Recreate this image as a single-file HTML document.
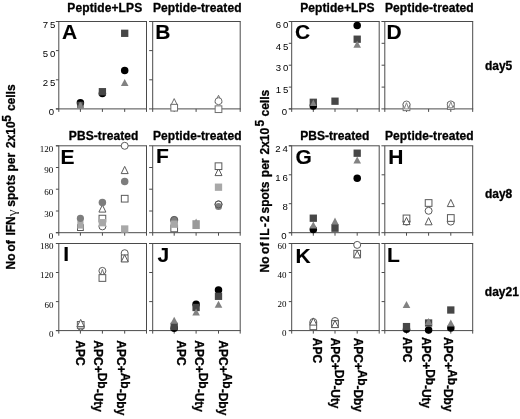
<!DOCTYPE html>
<html><head><meta charset="utf-8"><title>Figure</title>
<style>
html,body{margin:0;padding:0;background:#fff;}
body{width:520px;height:419px;overflow:hidden;font-family:"Liberation Sans",sans-serif;}
svg{display:block;filter:grayscale(1);}
text{fill:#000;}
.b{stroke:#000;stroke-width:0.3px;stroke-linejoin:round;}
.L{stroke:#000;stroke-width:0.12px;}
.g{fill:#333;}
</style></head><body>
<svg width="520" height="419" viewBox="0 0 520 419">
<rect width="520" height="419" fill="#fff"/>
<line x1="55.90" y1="21.50" x2="147.00" y2="21.50" stroke="#4a4a4a" stroke-width="1"/>
<line x1="58.80" y1="21.50" x2="58.80" y2="108.90" stroke="#4a4a4a" stroke-width="1"/>
<line x1="146.50" y1="21.50" x2="146.50" y2="108.90" stroke="#4a4a4a" stroke-width="1"/>
<line x1="55.90" y1="108.90" x2="147.00" y2="108.90" stroke="#4a4a4a" stroke-width="1"/>
<line x1="80.40" y1="108.90" x2="80.40" y2="111.90" stroke="#4a4a4a" stroke-width="1"/>
<line x1="102.40" y1="108.90" x2="102.40" y2="111.90" stroke="#4a4a4a" stroke-width="1"/>
<line x1="124.70" y1="108.90" x2="124.70" y2="111.90" stroke="#4a4a4a" stroke-width="1"/>
<line x1="58.80" y1="108.90" x2="58.80" y2="111.90" stroke="#4a4a4a" stroke-width="1"/>
<line x1="146.50" y1="108.90" x2="146.50" y2="111.90" stroke="#4a4a4a" stroke-width="1"/>
<line x1="55.90" y1="21.50" x2="58.80" y2="21.50" stroke="#4a4a4a" stroke-width="1"/>
<line x1="55.90" y1="50.60" x2="58.80" y2="50.60" stroke="#4a4a4a" stroke-width="1"/>
<line x1="55.90" y1="79.80" x2="58.80" y2="79.80" stroke="#4a4a4a" stroke-width="1"/>
<line x1="55.90" y1="108.90" x2="58.80" y2="108.90" stroke="#4a4a4a" stroke-width="1"/>
<line x1="149.00" y1="21.50" x2="240.70" y2="21.50" stroke="#4a4a4a" stroke-width="1"/>
<line x1="152.70" y1="21.50" x2="152.70" y2="108.90" stroke="#4a4a4a" stroke-width="1"/>
<line x1="240.20" y1="21.50" x2="240.20" y2="108.90" stroke="#4a4a4a" stroke-width="1"/>
<line x1="149.00" y1="108.90" x2="240.70" y2="108.90" stroke="#4a4a4a" stroke-width="1"/>
<line x1="174.20" y1="108.90" x2="174.20" y2="111.90" stroke="#4a4a4a" stroke-width="1"/>
<line x1="196.10" y1="108.90" x2="196.10" y2="111.90" stroke="#4a4a4a" stroke-width="1"/>
<line x1="218.50" y1="108.90" x2="218.50" y2="111.90" stroke="#4a4a4a" stroke-width="1"/>
<line x1="152.70" y1="108.90" x2="152.70" y2="111.90" stroke="#4a4a4a" stroke-width="1"/>
<line x1="240.20" y1="108.90" x2="240.20" y2="111.90" stroke="#4a4a4a" stroke-width="1"/>
<line x1="149.20" y1="50.60" x2="152.70" y2="50.60" stroke="#4a4a4a" stroke-width="1"/>
<line x1="149.20" y1="79.80" x2="152.70" y2="79.80" stroke="#4a4a4a" stroke-width="1"/>
<line x1="288.80" y1="21.50" x2="379.70" y2="21.50" stroke="#4a4a4a" stroke-width="1"/>
<line x1="291.70" y1="21.50" x2="291.70" y2="108.90" stroke="#4a4a4a" stroke-width="1"/>
<line x1="379.20" y1="21.50" x2="379.20" y2="108.90" stroke="#4a4a4a" stroke-width="1"/>
<line x1="288.80" y1="108.90" x2="379.70" y2="108.90" stroke="#4a4a4a" stroke-width="1"/>
<line x1="313.30" y1="108.90" x2="313.30" y2="111.90" stroke="#4a4a4a" stroke-width="1"/>
<line x1="335.00" y1="108.90" x2="335.00" y2="111.90" stroke="#4a4a4a" stroke-width="1"/>
<line x1="357.20" y1="108.90" x2="357.20" y2="111.90" stroke="#4a4a4a" stroke-width="1"/>
<line x1="291.70" y1="108.90" x2="291.70" y2="111.90" stroke="#4a4a4a" stroke-width="1"/>
<line x1="379.20" y1="108.90" x2="379.20" y2="111.90" stroke="#4a4a4a" stroke-width="1"/>
<line x1="288.80" y1="21.50" x2="291.70" y2="21.50" stroke="#4a4a4a" stroke-width="1"/>
<line x1="288.80" y1="43.30" x2="291.70" y2="43.30" stroke="#4a4a4a" stroke-width="1"/>
<line x1="288.80" y1="65.20" x2="291.70" y2="65.20" stroke="#4a4a4a" stroke-width="1"/>
<line x1="288.80" y1="87.10" x2="291.70" y2="87.10" stroke="#4a4a4a" stroke-width="1"/>
<line x1="288.80" y1="108.90" x2="291.70" y2="108.90" stroke="#4a4a4a" stroke-width="1"/>
<line x1="381.40" y1="21.50" x2="473.20" y2="21.50" stroke="#4a4a4a" stroke-width="1"/>
<line x1="384.80" y1="21.50" x2="384.80" y2="108.90" stroke="#4a4a4a" stroke-width="1"/>
<line x1="472.70" y1="21.50" x2="472.70" y2="108.90" stroke="#4a4a4a" stroke-width="1"/>
<line x1="381.40" y1="108.90" x2="473.20" y2="108.90" stroke="#4a4a4a" stroke-width="1"/>
<line x1="406.50" y1="108.90" x2="406.50" y2="111.90" stroke="#4a4a4a" stroke-width="1"/>
<line x1="428.60" y1="108.90" x2="428.60" y2="111.90" stroke="#4a4a4a" stroke-width="1"/>
<line x1="450.80" y1="108.90" x2="450.80" y2="111.90" stroke="#4a4a4a" stroke-width="1"/>
<line x1="384.80" y1="108.90" x2="384.80" y2="111.90" stroke="#4a4a4a" stroke-width="1"/>
<line x1="472.70" y1="108.90" x2="472.70" y2="111.90" stroke="#4a4a4a" stroke-width="1"/>
<line x1="381.60" y1="43.30" x2="384.80" y2="43.30" stroke="#4a4a4a" stroke-width="1"/>
<line x1="381.60" y1="65.20" x2="384.80" y2="65.20" stroke="#4a4a4a" stroke-width="1"/>
<line x1="381.60" y1="87.10" x2="384.80" y2="87.10" stroke="#4a4a4a" stroke-width="1"/>
<line x1="55.90" y1="145.80" x2="147.00" y2="145.80" stroke="#4a4a4a" stroke-width="1"/>
<line x1="58.80" y1="145.80" x2="58.80" y2="232.70" stroke="#4a4a4a" stroke-width="1"/>
<line x1="146.50" y1="145.80" x2="146.50" y2="232.70" stroke="#4a4a4a" stroke-width="1"/>
<line x1="55.90" y1="232.70" x2="147.00" y2="232.70" stroke="#4a4a4a" stroke-width="1"/>
<line x1="80.40" y1="232.70" x2="80.40" y2="235.70" stroke="#4a4a4a" stroke-width="1"/>
<line x1="102.40" y1="232.70" x2="102.40" y2="235.70" stroke="#4a4a4a" stroke-width="1"/>
<line x1="124.70" y1="232.70" x2="124.70" y2="235.70" stroke="#4a4a4a" stroke-width="1"/>
<line x1="58.80" y1="232.70" x2="58.80" y2="235.70" stroke="#4a4a4a" stroke-width="1"/>
<line x1="146.50" y1="232.70" x2="146.50" y2="235.70" stroke="#4a4a4a" stroke-width="1"/>
<line x1="55.90" y1="145.80" x2="58.80" y2="145.80" stroke="#4a4a4a" stroke-width="1"/>
<line x1="55.90" y1="167.50" x2="58.80" y2="167.50" stroke="#4a4a4a" stroke-width="1"/>
<line x1="55.90" y1="189.20" x2="58.80" y2="189.20" stroke="#4a4a4a" stroke-width="1"/>
<line x1="55.90" y1="211.00" x2="58.80" y2="211.00" stroke="#4a4a4a" stroke-width="1"/>
<line x1="55.90" y1="232.70" x2="58.80" y2="232.70" stroke="#4a4a4a" stroke-width="1"/>
<line x1="149.00" y1="145.80" x2="240.70" y2="145.80" stroke="#4a4a4a" stroke-width="1"/>
<line x1="152.70" y1="145.80" x2="152.70" y2="232.70" stroke="#4a4a4a" stroke-width="1"/>
<line x1="240.20" y1="145.80" x2="240.20" y2="232.70" stroke="#4a4a4a" stroke-width="1"/>
<line x1="149.00" y1="232.70" x2="240.70" y2="232.70" stroke="#4a4a4a" stroke-width="1"/>
<line x1="174.20" y1="232.70" x2="174.20" y2="235.70" stroke="#4a4a4a" stroke-width="1"/>
<line x1="196.10" y1="232.70" x2="196.10" y2="235.70" stroke="#4a4a4a" stroke-width="1"/>
<line x1="218.50" y1="232.70" x2="218.50" y2="235.70" stroke="#4a4a4a" stroke-width="1"/>
<line x1="152.70" y1="232.70" x2="152.70" y2="235.70" stroke="#4a4a4a" stroke-width="1"/>
<line x1="240.20" y1="232.70" x2="240.20" y2="235.70" stroke="#4a4a4a" stroke-width="1"/>
<line x1="149.20" y1="167.50" x2="152.70" y2="167.50" stroke="#4a4a4a" stroke-width="1"/>
<line x1="149.20" y1="189.20" x2="152.70" y2="189.20" stroke="#4a4a4a" stroke-width="1"/>
<line x1="149.20" y1="211.00" x2="152.70" y2="211.00" stroke="#4a4a4a" stroke-width="1"/>
<line x1="288.80" y1="145.80" x2="379.70" y2="145.80" stroke="#4a4a4a" stroke-width="1"/>
<line x1="291.70" y1="145.80" x2="291.70" y2="232.70" stroke="#4a4a4a" stroke-width="1"/>
<line x1="379.20" y1="145.80" x2="379.20" y2="232.70" stroke="#4a4a4a" stroke-width="1"/>
<line x1="288.80" y1="232.70" x2="379.70" y2="232.70" stroke="#4a4a4a" stroke-width="1"/>
<line x1="313.30" y1="232.70" x2="313.30" y2="235.70" stroke="#4a4a4a" stroke-width="1"/>
<line x1="335.00" y1="232.70" x2="335.00" y2="235.70" stroke="#4a4a4a" stroke-width="1"/>
<line x1="357.20" y1="232.70" x2="357.20" y2="235.70" stroke="#4a4a4a" stroke-width="1"/>
<line x1="291.70" y1="232.70" x2="291.70" y2="235.70" stroke="#4a4a4a" stroke-width="1"/>
<line x1="379.20" y1="232.70" x2="379.20" y2="235.70" stroke="#4a4a4a" stroke-width="1"/>
<line x1="288.80" y1="145.80" x2="291.70" y2="145.80" stroke="#4a4a4a" stroke-width="1"/>
<line x1="288.80" y1="174.80" x2="291.70" y2="174.80" stroke="#4a4a4a" stroke-width="1"/>
<line x1="288.80" y1="203.70" x2="291.70" y2="203.70" stroke="#4a4a4a" stroke-width="1"/>
<line x1="288.80" y1="232.70" x2="291.70" y2="232.70" stroke="#4a4a4a" stroke-width="1"/>
<line x1="381.40" y1="145.80" x2="473.20" y2="145.80" stroke="#4a4a4a" stroke-width="1"/>
<line x1="384.80" y1="145.80" x2="384.80" y2="232.70" stroke="#4a4a4a" stroke-width="1"/>
<line x1="472.70" y1="145.80" x2="472.70" y2="232.70" stroke="#4a4a4a" stroke-width="1"/>
<line x1="381.40" y1="232.70" x2="473.20" y2="232.70" stroke="#4a4a4a" stroke-width="1"/>
<line x1="406.50" y1="232.70" x2="406.50" y2="235.70" stroke="#4a4a4a" stroke-width="1"/>
<line x1="428.60" y1="232.70" x2="428.60" y2="235.70" stroke="#4a4a4a" stroke-width="1"/>
<line x1="450.80" y1="232.70" x2="450.80" y2="235.70" stroke="#4a4a4a" stroke-width="1"/>
<line x1="384.80" y1="232.70" x2="384.80" y2="235.70" stroke="#4a4a4a" stroke-width="1"/>
<line x1="472.70" y1="232.70" x2="472.70" y2="235.70" stroke="#4a4a4a" stroke-width="1"/>
<line x1="381.60" y1="174.80" x2="384.80" y2="174.80" stroke="#4a4a4a" stroke-width="1"/>
<line x1="381.60" y1="203.70" x2="384.80" y2="203.70" stroke="#4a4a4a" stroke-width="1"/>
<line x1="55.90" y1="243.50" x2="147.00" y2="243.50" stroke="#4a4a4a" stroke-width="1"/>
<line x1="58.80" y1="243.50" x2="58.80" y2="330.60" stroke="#4a4a4a" stroke-width="1"/>
<line x1="146.50" y1="243.50" x2="146.50" y2="330.60" stroke="#4a4a4a" stroke-width="1"/>
<line x1="55.90" y1="330.60" x2="147.00" y2="330.60" stroke="#4a4a4a" stroke-width="1"/>
<line x1="80.40" y1="330.60" x2="80.40" y2="333.60" stroke="#4a4a4a" stroke-width="1"/>
<line x1="102.40" y1="330.60" x2="102.40" y2="333.60" stroke="#4a4a4a" stroke-width="1"/>
<line x1="124.70" y1="330.60" x2="124.70" y2="333.60" stroke="#4a4a4a" stroke-width="1"/>
<line x1="58.80" y1="330.60" x2="58.80" y2="333.60" stroke="#4a4a4a" stroke-width="1"/>
<line x1="146.50" y1="330.60" x2="146.50" y2="333.60" stroke="#4a4a4a" stroke-width="1"/>
<line x1="55.90" y1="243.50" x2="58.80" y2="243.50" stroke="#4a4a4a" stroke-width="1"/>
<line x1="55.90" y1="272.50" x2="58.80" y2="272.50" stroke="#4a4a4a" stroke-width="1"/>
<line x1="55.90" y1="301.60" x2="58.80" y2="301.60" stroke="#4a4a4a" stroke-width="1"/>
<line x1="55.90" y1="330.60" x2="58.80" y2="330.60" stroke="#4a4a4a" stroke-width="1"/>
<line x1="149.00" y1="243.50" x2="240.70" y2="243.50" stroke="#4a4a4a" stroke-width="1"/>
<line x1="152.70" y1="243.50" x2="152.70" y2="330.60" stroke="#4a4a4a" stroke-width="1"/>
<line x1="240.20" y1="243.50" x2="240.20" y2="330.60" stroke="#4a4a4a" stroke-width="1"/>
<line x1="149.00" y1="330.60" x2="240.70" y2="330.60" stroke="#4a4a4a" stroke-width="1"/>
<line x1="174.20" y1="330.60" x2="174.20" y2="333.60" stroke="#4a4a4a" stroke-width="1"/>
<line x1="196.10" y1="330.60" x2="196.10" y2="333.60" stroke="#4a4a4a" stroke-width="1"/>
<line x1="218.50" y1="330.60" x2="218.50" y2="333.60" stroke="#4a4a4a" stroke-width="1"/>
<line x1="152.70" y1="330.60" x2="152.70" y2="333.60" stroke="#4a4a4a" stroke-width="1"/>
<line x1="240.20" y1="330.60" x2="240.20" y2="333.60" stroke="#4a4a4a" stroke-width="1"/>
<line x1="149.20" y1="272.50" x2="152.70" y2="272.50" stroke="#4a4a4a" stroke-width="1"/>
<line x1="149.20" y1="301.60" x2="152.70" y2="301.60" stroke="#4a4a4a" stroke-width="1"/>
<line x1="288.80" y1="243.50" x2="379.70" y2="243.50" stroke="#4a4a4a" stroke-width="1"/>
<line x1="291.70" y1="243.50" x2="291.70" y2="330.60" stroke="#4a4a4a" stroke-width="1"/>
<line x1="379.20" y1="243.50" x2="379.20" y2="330.60" stroke="#4a4a4a" stroke-width="1"/>
<line x1="288.80" y1="330.60" x2="379.70" y2="330.60" stroke="#4a4a4a" stroke-width="1"/>
<line x1="313.30" y1="330.60" x2="313.30" y2="333.60" stroke="#4a4a4a" stroke-width="1"/>
<line x1="335.00" y1="330.60" x2="335.00" y2="333.60" stroke="#4a4a4a" stroke-width="1"/>
<line x1="357.20" y1="330.60" x2="357.20" y2="333.60" stroke="#4a4a4a" stroke-width="1"/>
<line x1="291.70" y1="330.60" x2="291.70" y2="333.60" stroke="#4a4a4a" stroke-width="1"/>
<line x1="379.20" y1="330.60" x2="379.20" y2="333.60" stroke="#4a4a4a" stroke-width="1"/>
<line x1="288.80" y1="243.50" x2="291.70" y2="243.50" stroke="#4a4a4a" stroke-width="1"/>
<line x1="288.80" y1="272.50" x2="291.70" y2="272.50" stroke="#4a4a4a" stroke-width="1"/>
<line x1="288.80" y1="301.60" x2="291.70" y2="301.60" stroke="#4a4a4a" stroke-width="1"/>
<line x1="288.80" y1="330.60" x2="291.70" y2="330.60" stroke="#4a4a4a" stroke-width="1"/>
<line x1="381.40" y1="243.50" x2="473.20" y2="243.50" stroke="#4a4a4a" stroke-width="1"/>
<line x1="384.80" y1="243.50" x2="384.80" y2="330.60" stroke="#4a4a4a" stroke-width="1"/>
<line x1="472.70" y1="243.50" x2="472.70" y2="330.60" stroke="#4a4a4a" stroke-width="1"/>
<line x1="381.40" y1="330.60" x2="473.20" y2="330.60" stroke="#4a4a4a" stroke-width="1"/>
<line x1="406.50" y1="330.60" x2="406.50" y2="333.60" stroke="#4a4a4a" stroke-width="1"/>
<line x1="428.60" y1="330.60" x2="428.60" y2="333.60" stroke="#4a4a4a" stroke-width="1"/>
<line x1="450.80" y1="330.60" x2="450.80" y2="333.60" stroke="#4a4a4a" stroke-width="1"/>
<line x1="384.80" y1="330.60" x2="384.80" y2="333.60" stroke="#4a4a4a" stroke-width="1"/>
<line x1="472.70" y1="330.60" x2="472.70" y2="333.60" stroke="#4a4a4a" stroke-width="1"/>
<line x1="381.60" y1="272.50" x2="384.80" y2="272.50" stroke="#4a4a4a" stroke-width="1"/>
<line x1="381.60" y1="301.60" x2="384.80" y2="301.60" stroke="#4a4a4a" stroke-width="1"/>
<text x="57.20" y="27.70" font-family="Liberation Sans" font-size="9.6" font-weight="normal" text-anchor="end" letter-spacing="1.9">75</text>
<text x="57.20" y="56.80" font-family="Liberation Sans" font-size="9.6" font-weight="normal" text-anchor="end" letter-spacing="1.9">50</text>
<text x="57.20" y="86.00" font-family="Liberation Sans" font-size="9.6" font-weight="normal" text-anchor="end" letter-spacing="1.9">25</text>
<text x="55.90" y="115.10" font-family="Liberation Sans" font-size="9.6" font-weight="normal" text-anchor="end" letter-spacing="1.9">0</text>
<text x="290.20" y="27.70" font-family="Liberation Sans" font-size="9.6" font-weight="normal" text-anchor="end" letter-spacing="1.9">60</text>
<text x="290.20" y="49.50" font-family="Liberation Sans" font-size="9.6" font-weight="normal" text-anchor="end" letter-spacing="1.9">45</text>
<text x="290.20" y="71.40" font-family="Liberation Sans" font-size="9.6" font-weight="normal" text-anchor="end" letter-spacing="1.9">30</text>
<text x="290.20" y="93.30" font-family="Liberation Sans" font-size="9.6" font-weight="normal" text-anchor="end" letter-spacing="1.9">15</text>
<text x="288.90" y="115.10" font-family="Liberation Sans" font-size="9.6" font-weight="normal" text-anchor="end" letter-spacing="1.9">0</text>
<text x="53.20" y="151.60" font-family="Liberation Serif" font-size="9" font-weight="normal" text-anchor="end" >120</text>
<text x="53.20" y="173.30" font-family="Liberation Serif" font-size="9" font-weight="normal" text-anchor="end" >90</text>
<text x="53.20" y="195.00" font-family="Liberation Serif" font-size="9" font-weight="normal" text-anchor="end" >60</text>
<text x="53.20" y="216.80" font-family="Liberation Serif" font-size="9" font-weight="normal" text-anchor="end" >30</text>
<text x="53.20" y="238.50" font-family="Liberation Serif" font-size="9" font-weight="normal" text-anchor="end" >0</text>
<text x="289.70" y="152.00" font-family="Liberation Sans" font-size="9.6" font-weight="normal" text-anchor="end" letter-spacing="1.9">24</text>
<text x="289.70" y="181.00" font-family="Liberation Sans" font-size="9.6" font-weight="normal" text-anchor="end" letter-spacing="1.9">16</text>
<text x="289.70" y="209.90" font-family="Liberation Sans" font-size="9.6" font-weight="normal" text-anchor="end" letter-spacing="1.9">8</text>
<text x="288.40" y="238.90" font-family="Liberation Sans" font-size="9.6" font-weight="normal" text-anchor="end" letter-spacing="1.9">0</text>
<text x="53.60" y="249.40" font-family="Liberation Serif" font-size="9" font-weight="normal" text-anchor="end" >180</text>
<text x="53.60" y="278.40" font-family="Liberation Serif" font-size="9" font-weight="normal" text-anchor="end" >120</text>
<text x="53.60" y="307.50" font-family="Liberation Serif" font-size="9" font-weight="normal" text-anchor="end" >60</text>
<text x="53.60" y="336.50" font-family="Liberation Serif" font-size="9" font-weight="normal" text-anchor="end" >0</text>
<text x="286.60" y="249.00" font-family="Liberation Serif" font-size="9" font-weight="normal" text-anchor="end" >60</text>
<text x="286.60" y="278.00" font-family="Liberation Serif" font-size="9" font-weight="normal" text-anchor="end" >40</text>
<text x="286.60" y="307.10" font-family="Liberation Serif" font-size="9" font-weight="normal" text-anchor="end" >20</text>
<text x="286.60" y="336.10" font-family="Liberation Serif" font-size="9" font-weight="normal" text-anchor="end" >0</text>
<text x="61.90" y="39.40" font-family="Liberation Sans" font-size="21" font-weight="bold" text-anchor="start" class="L">A</text>
<text x="155.20" y="38.90" font-family="Liberation Sans" font-size="21" font-weight="bold" text-anchor="start" class="L">B</text>
<text x="294.90" y="39.10" font-family="Liberation Sans" font-size="21" font-weight="bold" text-anchor="start" class="L">C</text>
<text x="386.60" y="38.90" font-family="Liberation Sans" font-size="21" font-weight="bold" text-anchor="start" class="L">D</text>
<text x="60.40" y="163.70" font-family="Liberation Sans" font-size="21" font-weight="bold" text-anchor="start" class="L">E</text>
<text x="155.90" y="162.60" font-family="Liberation Sans" font-size="21" font-weight="bold" text-anchor="start" class="L">F</text>
<text x="295.40" y="164.30" font-family="Liberation Sans" font-size="21" font-weight="bold" text-anchor="start" class="L">G</text>
<text x="388.20" y="163.70" font-family="Liberation Sans" font-size="21" font-weight="bold" text-anchor="start" class="L">H</text>
<text x="63.20" y="261.00" font-family="Liberation Sans" font-size="21" font-weight="bold" text-anchor="start" class="L">I</text>
<text x="157.40" y="261.90" font-family="Liberation Sans" font-size="21" font-weight="bold" text-anchor="start" class="L">J</text>
<text x="295.40" y="262.80" font-family="Liberation Sans" font-size="21" font-weight="bold" text-anchor="start" class="L">K</text>
<text x="386.90" y="262.40" font-family="Liberation Sans" font-size="21" font-weight="bold" text-anchor="start" class="L">L</text>
<text class="b" x="67.30" y="11.60" font-family="Liberation Sans" font-size="12" font-weight="bold" text-anchor="start" textLength="74.9" lengthAdjust="spacing">Peptide+LPS</text>
<text class="b" x="153.00" y="11.60" font-family="Liberation Sans" font-size="12" font-weight="bold" text-anchor="start" textLength="88.5" lengthAdjust="spacing">Peptide-treated</text>
<text class="b" x="300.20" y="11.60" font-family="Liberation Sans" font-size="12" font-weight="bold" text-anchor="start" textLength="74.4" lengthAdjust="spacing">Peptide+LPS</text>
<text class="b" x="385.00" y="11.60" font-family="Liberation Sans" font-size="12" font-weight="bold" text-anchor="start" textLength="88.7" lengthAdjust="spacing">Peptide-treated</text>
<text class="b" x="68.80" y="140.10" font-family="Liberation Sans" font-size="12" font-weight="bold" text-anchor="start" textLength="69.6" lengthAdjust="spacing">PBS-treated</text>
<text class="b" x="153.00" y="140.10" font-family="Liberation Sans" font-size="12" font-weight="bold" text-anchor="start" textLength="88.5" lengthAdjust="spacing">Peptide-treated</text>
<text class="b" x="300.20" y="140.10" font-family="Liberation Sans" font-size="12" font-weight="bold" text-anchor="start" textLength="69.2" lengthAdjust="spacing">PBS-treated</text>
<text class="b" x="385.00" y="140.10" font-family="Liberation Sans" font-size="12" font-weight="bold" text-anchor="start" textLength="88.7" lengthAdjust="spacing">Peptide-treated</text>
<text class="b" x="484.90" y="70.10" font-family="Liberation Sans" font-size="12" font-weight="bold" text-anchor="start" >day5</text>
<text class="b" x="484.90" y="198.20" font-family="Liberation Sans" font-size="12" font-weight="bold" text-anchor="start" >day8</text>
<text class="b" x="484.80" y="296.20" font-family="Liberation Sans" font-size="12" font-weight="bold" text-anchor="start" >day21</text>
<text class="b" transform="translate(14.9,269.4) rotate(-90)" font-family="Liberation Sans" font-size="12" font-weight="bold">No</text>
<text class="b" transform="translate(14.9,251.5) rotate(-90)" font-family="Liberation Sans" font-size="12" font-weight="bold">of</text>
<text class="b" transform="translate(14.9,235.6) rotate(-90)" font-family="Liberation Sans" font-size="12" font-weight="bold">IFN</text>
<text class="b" transform="translate(14.9,206.7) rotate(-90)" font-family="Liberation Sans" font-size="12" font-weight="bold">spots</text>
<text class="b" transform="translate(14.9,171.6) rotate(-90)" font-family="Liberation Sans" font-size="12" font-weight="bold">per</text>
<text class="b" transform="translate(14.9,148.0) rotate(-90)" font-family="Liberation Sans" font-size="12" font-weight="bold">2x10</text>
<text class="b" transform="translate(14.9,111.1) rotate(-90)" font-family="Liberation Sans" font-size="12" font-weight="bold">cells</text>
<text class="b" transform="translate(10.6,121.8) rotate(-90)" font-family="Liberation Sans" font-size="12" font-weight="bold">5</text>
<text class="g" transform="translate(15.6,216.6) rotate(-90)" font-family="Liberation Serif" font-size="13.5" font-weight="normal" textLength="7.2" lengthAdjust="spacingAndGlyphs">γ</text>
<text class="b" transform="translate(268.9,272.5) rotate(-90)" font-family="Liberation Sans" font-size="12" font-weight="bold">No</text>
<text class="b" transform="translate(268.9,253.9) rotate(-90)" font-family="Liberation Sans" font-size="12" font-weight="bold">of</text>
<text class="b" transform="translate(268.9,240.0) rotate(-90)" font-family="Liberation Sans" font-size="12" font-weight="bold" textLength="24.4" lengthAdjust="spacing">IL-2</text>
<text class="b" transform="translate(268.9,213.5) rotate(-90)" font-family="Liberation Sans" font-size="12" font-weight="bold">spots</text>
<text class="b" transform="translate(268.9,177.2) rotate(-90)" font-family="Liberation Sans" font-size="12" font-weight="bold">per</text>
<text class="b" transform="translate(268.9,154.5) rotate(-90)" font-family="Liberation Sans" font-size="12" font-weight="bold">2x10</text>
<text class="b" transform="translate(268.9,116.5) rotate(-90)" font-family="Liberation Sans" font-size="12" font-weight="bold">cells</text>
<text class="b" transform="translate(264.4,126.4) rotate(-90)" font-family="Liberation Sans" font-size="12" font-weight="bold">5</text>
<text class="b" transform="translate(76.4,340.3) rotate(90)" font-family="Liberation Sans" font-size="12" font-weight="bold">APC</text>
<text class="b" transform="translate(93.7,340.3) rotate(90)" font-family="Liberation Sans" font-size="12" font-weight="bold">APC+<tspan dy="-4.2">Db</tspan><tspan dy="4.2">-Uty</tspan></text>
<text class="b" transform="translate(116.9,340.3) rotate(90)" font-family="Liberation Sans" font-size="12" font-weight="bold">APC+<tspan dy="-4.2">Ab</tspan><tspan dy="4.2">-Dby</tspan></text>
<text class="b" transform="translate(176.9,340.3) rotate(90)" font-family="Liberation Sans" font-size="12" font-weight="bold">APC</text>
<text class="b" transform="translate(194.8,340.3) rotate(90)" font-family="Liberation Sans" font-size="12" font-weight="bold">APC+<tspan dy="-4.2">Db</tspan><tspan dy="4.2">-Uty</tspan></text>
<text class="b" transform="translate(219.0,340.3) rotate(90)" font-family="Liberation Sans" font-size="12" font-weight="bold">APC+<tspan dy="-4.2">Ab</tspan><tspan dy="4.2">-Dby</tspan></text>
<text class="b" transform="translate(312.5,337.8) rotate(90)" font-family="Liberation Sans" font-size="12" font-weight="bold">APC</text>
<text class="b" transform="translate(330.5,337.8) rotate(90)" font-family="Liberation Sans" font-size="12" font-weight="bold" textLength="70.7" lengthAdjust="spacing">APC+<tspan dy="-4.2">Db</tspan><tspan dy="4.2">-Uty</tspan></text>
<text class="b" transform="translate(354.0,337.8) rotate(90)" font-family="Liberation Sans" font-size="12" font-weight="bold" textLength="74.2" lengthAdjust="spacing">APC+<tspan dy="-4.2">Ab</tspan><tspan dy="4.2">-Dby</tspan></text>
<text class="b" transform="translate(402.9,337.0) rotate(90)" font-family="Liberation Sans" font-size="12" font-weight="bold">APC</text>
<text class="b" transform="translate(421.5,337.0) rotate(90)" font-family="Liberation Sans" font-size="12" font-weight="bold" textLength="71.2" lengthAdjust="spacing">APC+<tspan dy="-4.2">Db</tspan><tspan dy="4.2">-Uty</tspan></text>
<text class="b" transform="translate(444.0,337.0) rotate(90)" font-family="Liberation Sans" font-size="12" font-weight="bold" textLength="74.6" lengthAdjust="spacing">APC+<tspan dy="-4.2">Ab</tspan><tspan dy="4.2">-Dby</tspan></text>
<circle cx="80.40" cy="102.70" r="3.75" fill="#000000"/>
<rect x="77.20" y="101.70" width="6.40" height="6.40" fill="#474747"/>
<polygon points="79.60,102.3 81.20,102.3 83.60,108.4 77.20,108.4" fill="#858585"/>
<circle cx="102.40" cy="93.60" r="3.75" fill="#000000"/>
<rect x="98.75" y="88.05" width="7.30" height="7.30" fill="#474747"/>
<rect x="121.05" y="29.65" width="7.30" height="7.30" fill="#474747"/>
<circle cx="124.70" cy="70.50" r="3.75" fill="#000000"/>
<polygon points="124.70,78.90 128.50,85.90 120.90,85.90" fill="#828282"/>
<polygon points="174.20,98.60 177.70,105.80 170.70,105.80" fill="#fff" stroke="#6e6e6e" stroke-width="1"/>
<rect x="170.85" y="104.35" width="6.70" height="6.70" fill="#fff" stroke="#6e6e6e" stroke-width="1"/>
<polygon points="218.50,95.30 222.00,102.50 215.00,102.50" fill="#fff" stroke="#6e6e6e" stroke-width="1"/>
<circle cx="218.50" cy="101.20" r="3.50" fill="#fff" stroke="#6e6e6e" stroke-width="1"/>
<rect x="215.15" y="105.85" width="6.70" height="6.70" fill="#fff" stroke="#6e6e6e" stroke-width="1"/>
<circle cx="313.30" cy="106.00" r="3.75" fill="#000000"/>
<rect x="309.65" y="98.65" width="7.30" height="7.30" fill="#474747"/>
<polygon points="313.30,99.60 316.50,106.00 310.10,106.00" fill="#828282"/>
<rect x="331.35" y="97.55" width="7.30" height="7.30" fill="#474747"/>
<circle cx="357.20" cy="25.60" r="3.75" fill="#000000"/>
<rect x="353.55" y="35.55" width="7.30" height="7.30" fill="#474747"/>
<polygon points="357.20,40.70 361.00,47.70 353.40,47.70" fill="#828282"/>
<rect x="403.15" y="103.95" width="6.70" height="6.70" fill="#fff" stroke="#6e6e6e" stroke-width="1"/>
<circle cx="406.50" cy="104.50" r="3.50" fill="#fff" stroke="#6e6e6e" stroke-width="1"/>
<polygon points="406.50,102.70 408.70,108.90 404.30,108.90" fill="#fff" stroke="#8a8a8a" stroke-width="1"/>
<rect x="447.45" y="102.65" width="6.70" height="6.70" fill="#fff" stroke="#6e6e6e" stroke-width="1"/>
<circle cx="450.80" cy="104.40" r="3.50" fill="#fff" stroke="#6e6e6e" stroke-width="1"/>
<polygon points="450.80,101.80 453.00,107.80 448.60,107.80" fill="#fff" stroke="#8a8a8a" stroke-width="1"/>
<rect x="77.50" y="224.70" width="5.80" height="5.80" fill="#fff" stroke="#5a5a5a" stroke-width="1"/>
<rect x="77.30" y="221.2" width="6.2" height="7.4" fill="#a8a8a8"/>
<circle cx="80.40" cy="218.40" r="3.60" fill="#7d7d7d"/>
<circle cx="102.40" cy="226.40" r="3.50" fill="#fff" stroke="#5a5a5a" stroke-width="1"/>
<rect x="99.05" y="215.25" width="6.70" height="6.70" fill="#fff" stroke="#5a5a5a" stroke-width="1"/>
<rect x="98.75" y="219.05" width="7.30" height="7.30" fill="#a8a8a8"/>
<polygon points="102.40,204.90 105.90,212.10 98.90,212.10" fill="#fff" stroke="#5a5a5a" stroke-width="1"/>
<circle cx="102.40" cy="202.60" r="3.75" fill="#7d7d7d"/>
<circle cx="124.70" cy="145.80" r="3.50" fill="#fff" stroke="#5a5a5a" stroke-width="1"/>
<polygon points="124.70,166.40 128.20,173.60 121.20,173.60" fill="#fff" stroke="#5a5a5a" stroke-width="1"/>
<circle cx="124.70" cy="181.50" r="3.75" fill="#7d7d7d"/>
<rect x="121.35" y="195.35" width="6.70" height="6.70" fill="#fff" stroke="#5a5a5a" stroke-width="1"/>
<rect x="121.05" y="225.35" width="7.30" height="7.30" fill="#a8a8a8"/>
<rect x="170.85" y="225.05" width="6.70" height="6.70" fill="#fff" stroke="#5a5a5a" stroke-width="1"/>
<rect x="170.55" y="220.55" width="7.30" height="7.30" fill="#a8a8a8"/>
<circle cx="174.20" cy="220.00" r="3.75" fill="#7d7d7d"/>
<circle cx="174.20" cy="220.00" r="3.60" fill="none" stroke="#5a5a5a" stroke-width="1"/>
<rect x="170.70" y="220.5" width="7" height="5.2" fill="#a8a8a8"/>
<polygon points="196.10,218.40 199.10,224.80 193.10,224.80" fill="#828282"/>
<rect x="192.40" y="220.2" width="7.4" height="8.8" fill="#9a9a9a"/>
<polygon points="218.50,168.40 222.00,175.60 215.00,175.60" fill="#fff" stroke="#5a5a5a" stroke-width="1"/>
<rect x="215.15" y="162.85" width="6.70" height="6.70" fill="#fff" stroke="#5a5a5a" stroke-width="1"/>
<rect x="214.85" y="183.55" width="7.30" height="7.30" fill="#a8a8a8"/>
<circle cx="218.50" cy="204.40" r="3.50" fill="#fff" stroke="#5a5a5a" stroke-width="1"/>
<circle cx="218.50" cy="206.60" r="3.50" fill="#7d7d7d"/>
<circle cx="218.50" cy="204.40" r="3.50" fill="none" stroke="#5a5a5a" stroke-width="1"/>
<circle cx="313.30" cy="229.60" r="3.75" fill="#000000"/>
<polygon points="313.30,221.40 317.10,228.40 309.50,228.40" fill="#828282"/>
<rect x="309.65" y="214.55" width="7.30" height="7.30" fill="#474747"/>
<polygon points="335.00,217.45 338.80,224.95 331.20,224.95" fill="#828282"/>
<rect x="331.35" y="224.55" width="7.30" height="7.30" fill="#474747"/>
<polygon points="357.20,156.40 361.00,163.40 353.40,163.40" fill="#828282"/>
<rect x="353.55" y="149.55" width="7.30" height="7.30" fill="#474747"/>
<circle cx="357.20" cy="178.20" r="3.75" fill="#000000"/>
<circle cx="406.50" cy="221.60" r="3.50" fill="#fff" stroke="#5a5a5a" stroke-width="1"/>
<rect x="403.15" y="215.05" width="6.70" height="6.70" fill="#fff" stroke="#5a5a5a" stroke-width="1"/>
<polygon points="406.50,217.40 410.00,224.60 403.00,224.60" fill="#fff" stroke="#5a5a5a" stroke-width="1"/>
<rect x="425.25" y="199.65" width="6.70" height="6.70" fill="#fff" stroke="#5a5a5a" stroke-width="1"/>
<circle cx="428.60" cy="210.80" r="3.50" fill="#fff" stroke="#5a5a5a" stroke-width="1"/>
<polygon points="428.60,217.60 432.10,224.80 425.10,224.80" fill="#fff" stroke="#5a5a5a" stroke-width="1"/>
<polygon points="450.80,199.40 454.30,206.60 447.30,206.60" fill="#fff" stroke="#5a5a5a" stroke-width="1"/>
<circle cx="450.80" cy="221.60" r="3.50" fill="#fff" stroke="#5a5a5a" stroke-width="1"/>
<rect x="447.45" y="214.65" width="6.70" height="6.70" fill="#fff" stroke="#5a5a5a" stroke-width="1"/>
<circle cx="80.70" cy="326.50" r="3.50" fill="#fff" stroke="#5a5a5a" stroke-width="1"/>
<rect x="77.35" y="321.55" width="6.70" height="6.70" fill="#fff" stroke="#5a5a5a" stroke-width="1"/>
<polygon points="80.70,319.40 84.20,326.60 77.20,326.60" fill="#fff" stroke="#5a5a5a" stroke-width="1"/>
<circle cx="102.40" cy="270.90" r="3.50" fill="#fff" stroke="#5a5a5a" stroke-width="1"/>
<polygon points="102.40,269.30 104.20,274.70 100.60,274.70" fill="#fff" stroke="#777" stroke-width="1"/>
<rect x="99.05" y="274.65" width="6.70" height="6.70" fill="#fff" stroke="#5a5a5a" stroke-width="1"/>
<circle cx="124.70" cy="253.20" r="3.50" fill="#fff" stroke="#5a5a5a" stroke-width="1"/>
<rect x="121.35" y="254.95" width="6.70" height="6.70" fill="#fff" stroke="#5a5a5a" stroke-width="1"/>
<polygon points="124.70,254.70 128.20,261.90 121.20,261.90" fill="#fff" stroke="#5a5a5a" stroke-width="1"/>
<circle cx="174.20" cy="328.30" r="3.75" fill="#000000"/>
<rect x="170.55" y="322.75" width="7.30" height="7.30" fill="#474747"/>
<polygon points="174.20,316.80 178.00,323.80 170.40,323.80" fill="#828282"/>
<circle cx="196.10" cy="304.30" r="3.75" fill="#000000"/>
<rect x="192.45" y="303.85" width="7.30" height="7.30" fill="#474747"/>
<polygon points="196.10,308.60 199.90,315.60 192.30,315.60" fill="#828282"/>
<circle cx="218.50" cy="290.00" r="3.75" fill="#000000"/>
<rect x="214.85" y="292.65" width="7.30" height="7.30" fill="#474747"/>
<polygon points="218.50,300.80 222.30,307.80 214.70,307.80" fill="#828282"/>
<circle cx="313.30" cy="322.00" r="3.50" fill="#fff" stroke="#5a5a5a" stroke-width="1"/>
<rect x="309.95" y="322.95" width="6.70" height="6.70" fill="#fff" stroke="#5a5a5a" stroke-width="1"/>
<polygon points="313.30,317.90 316.80,325.10 309.80,325.10" fill="#fff" stroke="#5a5a5a" stroke-width="1"/>
<circle cx="335.00" cy="321.00" r="3.50" fill="#fff" stroke="#5a5a5a" stroke-width="1"/>
<rect x="331.65" y="320.65" width="6.70" height="6.70" fill="#fff" stroke="#5a5a5a" stroke-width="1"/>
<polygon points="335.00,320.40 338.50,327.60 331.50,327.60" fill="#fff" stroke="#5a5a5a" stroke-width="1"/>
<circle cx="357.20" cy="244.90" r="3.50" fill="#fff" stroke="#5a5a5a" stroke-width="1"/>
<rect x="353.85" y="250.35" width="6.70" height="6.70" fill="#fff" stroke="#5a5a5a" stroke-width="1"/>
<polygon points="357.20,250.70 360.70,257.90 353.70,257.90" fill="#fff" stroke="#5a5a5a" stroke-width="1"/>
<circle cx="406.50" cy="329.20" r="3.75" fill="#000000"/>
<rect x="402.85" y="322.95" width="7.30" height="7.30" fill="#474747"/>
<polygon points="406.50,301.10 410.30,308.10 402.70,308.10" fill="#828282"/>
<circle cx="428.60" cy="330.00" r="3.75" fill="#000000"/>
<rect x="424.95" y="319.35" width="7.30" height="7.30" fill="#474747"/>
<polygon points="428.60,318.10 432.40,325.10 424.80,325.10" fill="#828282"/>
<circle cx="450.80" cy="327.90" r="3.75" fill="#000000"/>
<rect x="447.15" y="306.35" width="7.30" height="7.30" fill="#474747"/>
<polygon points="450.80,319.50 454.60,326.50 447.00,326.50" fill="#828282"/>
</svg>
</body></html>
